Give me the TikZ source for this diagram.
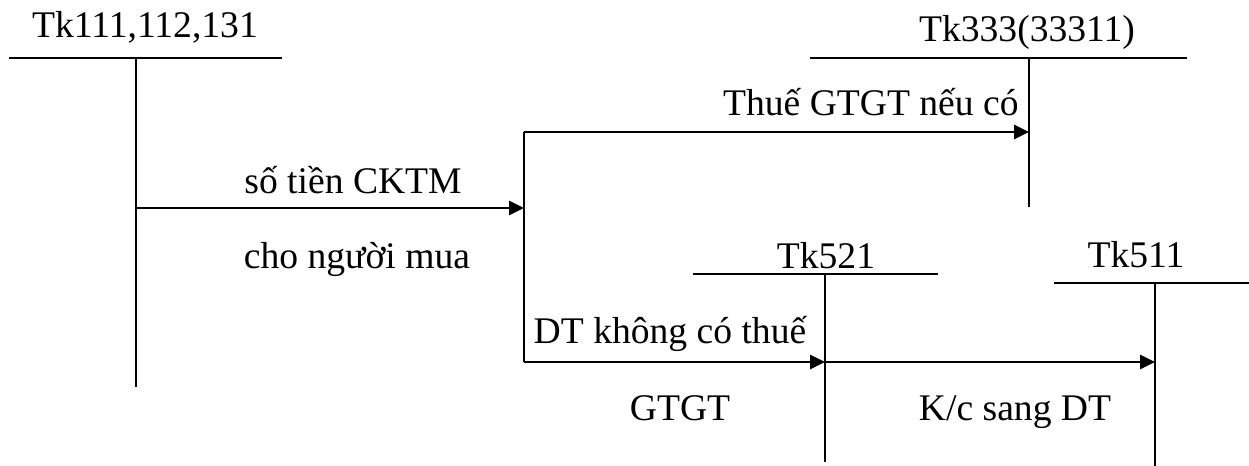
\documentclass[tikz,border=0pt]{standalone}
\usepackage{fontspec}
\setmainfont{Liberation Serif}
\usetikzlibrary{arrows.meta}
\begin{document}
\begin{tikzpicture}[x=0.5pt,y=-0.5pt,
  tline/.style={line width=0.9pt},
  flow/.style={line width=1.4pt,-{Triangle[length=7.5pt,width=7pt]}},
  plain/.style={line width=1.4pt},
  lab/.style={font=\fontsize{18.8}{21}\selectfont, inner sep=0pt, anchor=base},
  ]
\useasboundingbox (0,0) rectangle (1249,466);
% T accounts
\node[lab] (t1) at (145,38) {Tk111,112,131};
\coordinate (t1l) at (9,58); \coordinate (t1r) at (282,58);
\coordinate (t1t) at (136,58); \coordinate (t1b) at (136,387);
\draw[tline] (t1l) -- (t1r); \draw[tline] (t1t) -- (t1b);

\node[lab] (t2) at (1027,41) {Tk333(33311)};
\coordinate (t2l) at (810,58); \coordinate (t2r) at (1187,58);
\coordinate (t2t) at (1029,58); \coordinate (t2b) at (1029,207);
\draw[tline] (t2l) -- (t2r); \draw[tline] (t2t) -- (t2b);

\node[lab] (t3) at (826,268) {Tk521};
\coordinate (t3l) at (693,274); \coordinate (t3r) at (938,274);
\coordinate (t3t) at (825,274); \coordinate (t3b) at (825,462);
\draw[tline] (t3l) -- (t3r); \draw[tline] (t3t) -- (t3b);

\node[lab] (t4) at (1136,267) {Tk511};
\coordinate (t4l) at (1054,283); \coordinate (t4r) at (1249,283);
\coordinate (t4t) at (1155,283); \coordinate (t4b) at (1155,466);
\draw[tline] (t4l) -- (t4r); \draw[tline] (t4t) -- (t4b);

% flows
\coordinate (a1) at (136,208);
\coordinate (j) at (524,208);
\coordinate (jt) at (524,132);
\coordinate (jb) at (524,362);
\coordinate (e2) at (1029,132);
\coordinate (e3) at (825,362);
\coordinate (e4) at (1155,362);
\draw[flow] (a1) -- (j);
\draw[plain] (jt) -- (jb);
\draw[flow] (jt) -- (e2);
\draw[flow] (jb) -- (e3);
\draw[flow] (e3) -- (e4);

% labels
\node[lab,anchor=base east] (l1) at (1019,115) {Thuế GTGT nếu có};
\node[lab] (l2) at (353,193) {số tiền CKTM};
\node[lab] (l3) at (357,268) {cho người mua};
\node[lab] (l4) at (670,343) {DT không có thuế};
\node[lab] (l5) at (680,420) {GTGT};
\node[lab] (l6) at (1015,420) {K/c sang DT};
\end{tikzpicture}
\end{document}
